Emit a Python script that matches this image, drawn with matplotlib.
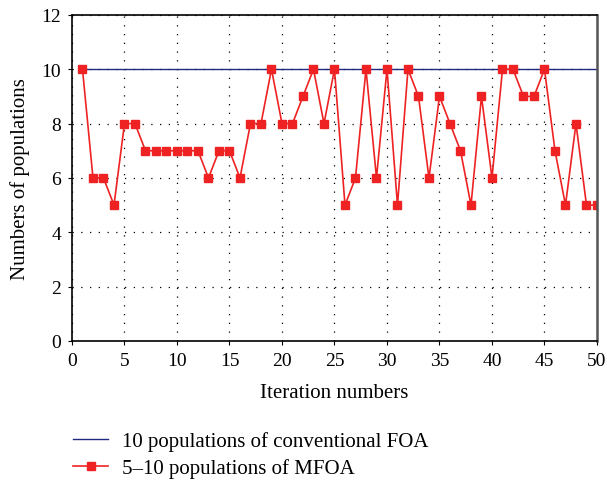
import numpy as np
import matplotlib
matplotlib.use("Agg")
import matplotlib.pyplot as plt

plt.rcParams['font.family'] = ['Liberation Serif', 'DejaVu Serif']

# Daten
iterations = np.arange(1, 51)
foa = [10] * 50
mfoa = [10, 6, 6, 5, 8, 8, 7, 7, 7, 7, 7, 7, 6, 7, 7, 6, 8, 8, 10, 8,
        8, 9, 10, 8, 10, 5, 6, 10, 6, 10, 5, 10, 9, 6, 9, 8, 7, 5, 9, 6,
        10, 10, 9, 9, 10, 7, 5, 8, 5, 5]

fig = plt.figure(figsize=(6.07, 4.81), dpi=100)
ax = fig.add_axes([0.1186, 0.289, 0.8649, 0.678])

ax.plot(iterations, foa, color="#1f2a80", lw=1.0,
        label="10 populations of conventional FOA")
ax.plot(iterations, mfoa, color="#ee2222", lw=1.2, marker="s", ms=6,
        label="5\u201310 populations of MFOA")

ax.set_xlim(0, 50)
ax.set_ylim(0, 12)
ax.set_xticks(np.arange(0, 51, 5))
ax.set_yticks(np.arange(0, 13, 2))
ax.grid(True, color="black", linestyle=(0, (1, 6)), lw=0.9)
ax.tick_params(direction="out", length=3, labelsize=14, color="black", pad=5)
for s in ["left", "bottom", "top"]:
    ax.spines[s].set_linewidth(1.2)
ax.spines["right"].set_linewidth(1.8)
ax.spines["right"].set_color("#555555")

ax.set_xlabel("Iteration numbers", fontsize=15, labelpad=10)
ax.set_ylabel("Numbers of populations", fontsize=15, labelpad=8)

fig.legend(loc="upper left", bbox_to_anchor=(0.12, 0.102), frameon=False,
           fontsize=15, handlelength=1.7, handletextpad=0.65,
           labelspacing=0.35, borderpad=0, borderaxespad=0)

fig.savefig("out.png", dpi=100)
